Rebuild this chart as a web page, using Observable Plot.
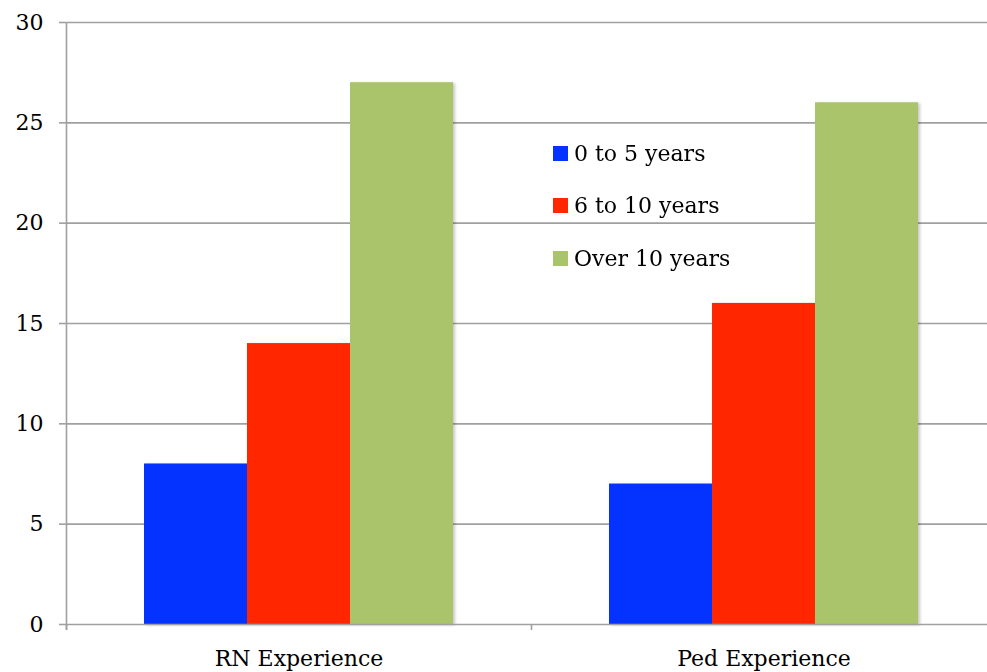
<!DOCTYPE html>
<html>
<head>
<meta charset="utf-8">
<script src="https://cdn.jsdelivr.net/npm/d3@7"></script>
<script src="https://cdn.jsdelivr.net/npm/@observablehq/plot@0.6"></script>
<style>
  html, body { margin: 0; padding: 0; background: #fff; }
  #wrap { position: relative; width: 987px; height: 672px; overflow: hidden; }
  #legend { position: absolute; left: 553px; top: 127px; font-family: "DejaVu Serif", serif; font-size: 22px; color: #000; }
  #legend .row { height: 52.5px; display: flex; align-items: center; }
  #legend .sw { width: 15px; height: 15px; margin-right: 6px; }
</style>
</head>
<body>
<div id="wrap"><div id="chart"></div><div id="legend"></div></div>
<script>
const categories = ["RN Experience", "Ped Experience"];
const series = ["0 to 5 years", "6 to 10 years", "Over 10 years"];
const values0to5 = [8, 7];
const values6to10 = [14, 16];
const valuesOver10 = [27, 26];
const colors = ["#0433ff", "#ff2600", "#aac46c"];
const yTicks = [0, 5, 10, 15, 20, 25, 30];

const seriesValues = [values0to5, values6to10, valuesOver10];
const data = [];
categories.forEach((c, i) => series.forEach((s, j) => data.push({category: c, series: s, value: seriesValues[j][i]})));

const gridColor = "#a0a0a0";
const font = "DejaVu Serif";

const atFacetLeft = (extend) => (index, scales, values, dimensions, context, next) => {
  const n = values.y1.length;
  let left, bw = 0;
  if (scales.x && typeof scales.x.range === "function") {
    left = scales.x.range()[0];
    if (typeof scales.x.bandwidth === "function") bw = scales.x.bandwidth();
  } else {
    left = dimensions.marginLeft;
  }
  const x = new Float64Array(n).fill(left - bw / 2);
  const y2 = Float64Array.from(values.y2, v => v + extend);
  return next(index, scales, {...values, x, y2}, dimensions, context);
};

const chart = Plot.plot({
  width: 987,
  height: 672,
  marginTop: 22,
  marginBottom: 48,
  marginLeft: 65,
  marginRight: 0,
  style: {fontFamily: font, fontSize: "22px", color: "#000", background: "#fff"},
  fx: {domain: categories, range: [65.5, 996.5], padding: 0, label: null},
  x: {domain: series, paddingInner: 0, paddingOuter: 0.755, axis: null},
  y: {domain: [0, 30], label: null},
  color: {domain: series, range: colors},
  marks: [
    Plot.ruleY(yTicks.filter(d => d > 0), {stroke: gridColor, strokeWidth: 1.6}),
    Plot.barY(data, {fx: "category", x: "series", y: "value", fill: "series"}),
    Plot.ruleY([0], {stroke: gridColor, strokeWidth: 1.6}),
    Plot.ruleX(categories, {fx: d => d, x: null, y1: 0, y2: 0, stroke: gridColor, strokeWidth: 1.6, render: atFacetLeft(6)}),
    Plot.ruleX([categories[0]], {fx: d => d, x: null, y1: 30, y2: 0, stroke: gridColor, strokeWidth: 1.6, render: atFacetLeft(6)}),
    Plot.axisY({ticks: yTicks, tickSize: 7, tickPadding: 16, stroke: gridColor, strokeWidth: 1.6, fill: "#000", fontSize: 22, label: null}),
    Plot.axisFx({anchor: "bottom", tickSize: 0, tickPadding: 26, fontSize: 22, fill: "#000", label: null})
  ]
});
document.getElementById("chart").appendChild(chart);
chart.querySelectorAll('g[aria-label="bar"]').forEach(g => g.style.filter = "drop-shadow(2px 1px 1.5px rgba(0,0,0,0.22))");

const legend = document.getElementById("legend");
series.forEach((s, i) => {
  const row = document.createElement("div");
  row.className = "row";
  const sw = document.createElement("div");
  sw.className = "sw";
  sw.style.background = colors[i];
  const t = document.createElement("span");
  t.textContent = s;
  row.appendChild(sw);
  row.appendChild(t);
  legend.appendChild(row);
});
</script>
</body>
</html>
